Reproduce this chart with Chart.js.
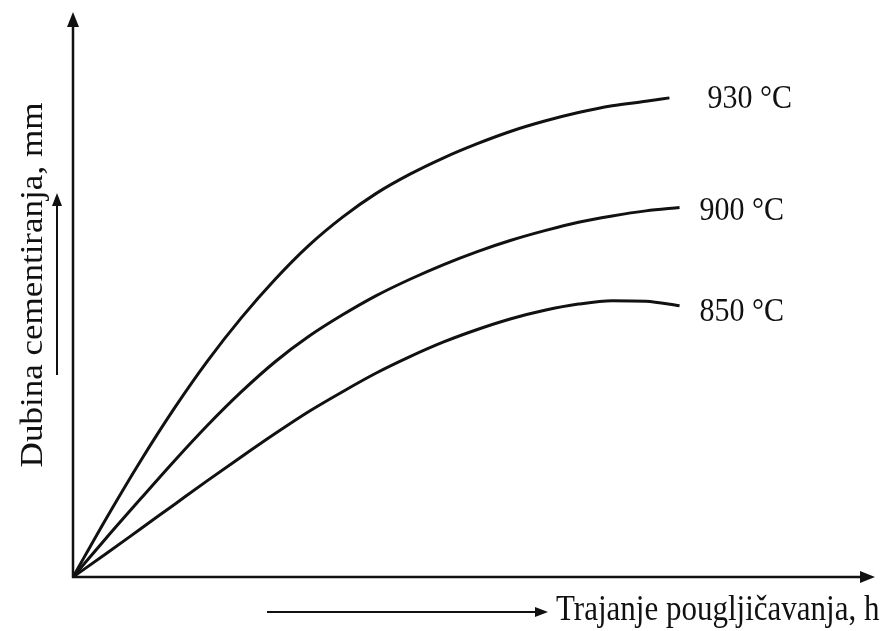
<!DOCTYPE html>
<html>
<head>
<meta charset="utf-8">
<script src="https://cdn.jsdelivr.net/npm/chart.js@4/dist/chart.umd.min.js"></script>
<style>
  html, body { margin: 0; padding: 0; background: #fff; }
  canvas { display: block; }
</style>
</head>
<body>
<canvas id="grafica" width="890" height="631"></canvas>
<script>
// Vrijeme (h) i dubina cementiranja (mm) za tri temperature
const hours = [0, 0.5, 1, 1.5, 2, 2.5, 3, 3.5, 4, 4.5, 5, 5.5, 6, 6.5, 7, 7.5, 8, 8.5, 9];
const hours930 = [0, 0.5, 1, 1.5, 2, 2.5, 3, 3.5, 4, 4.5, 5, 5.5, 6, 6.5, 7, 7.5, 8, 8.5, 8.85];
const depth930 = [0, 1.05, 2.05, 2.98, 3.83, 4.59, 5.27, 5.87, 6.37, 6.79, 7.13, 7.42, 7.67, 7.89, 8.07, 8.22, 8.34, 8.42, 8.48];
const depth900 = [0, 0.70, 1.38, 2.05, 2.69, 3.28, 3.81, 4.26, 4.64, 4.98, 5.27, 5.53, 5.76, 5.96, 6.13, 6.28, 6.39, 6.48, 6.54];
const depth850 = [0, 0.42, 0.85, 1.28, 1.71, 2.13, 2.54, 2.93, 3.28, 3.61, 3.90, 4.16, 4.38, 4.57, 4.72, 4.83, 4.89, 4.88, 4.80];
const seriesLabels = ['930 \u00B0C', '900 \u00B0C', '850 \u00B0C'];

const xTitle = 'Trajanje pougljičavanja, h';
const yTitle = 'Dubina cementiranja, mm';
const xMax = 11.9;
const yMax = 10;

const INK = '#111';
const FONT = '"Liberation Serif", "Times New Roman", serif';
const STRETCH = 1.13; // tekst je malo izdužen po visini

function toPoints(xs, ys) {
  return xs.map((x, i) => ({ x: x, y: ys[i] }));
}

function arrowHead(ctx, x, y, dir, len, half) {
  // dir: 'up' ili 'right'
  ctx.beginPath();
  if (dir === 'up') {
    ctx.moveTo(x, y);
    ctx.lineTo(x - half, y + len);
    ctx.lineTo(x + half, y + len);
  } else {
    ctx.moveTo(x, y);
    ctx.lineTo(x - len, y - half);
    ctx.lineTo(x - len, y + half);
  }
  ctx.closePath();
  ctx.fill();
}

function stretchedText(ctx, text, x, y, size, align, rotate) {
  ctx.save();
  ctx.translate(x, y);
  ctx.scale(1, STRETCH);
  if (rotate) ctx.rotate(-Math.PI / 2);
  ctx.font = size + 'px ' + FONT;
  ctx.textAlign = align;
  ctx.textBaseline = 'middle';
  ctx.fillText(text, 0, 0);
  ctx.restore();
}

// Osi sa strelicama i natpisi osi
const axesPlugin = {
  id: 'axesPlugin',
  beforeDatasetsDraw(chart) {
    const ctx = chart.ctx;
    const xs = chart.scales.x;
    const ys = chart.scales.y;
    const x0 = xs.getPixelForValue(0);
    const y0 = ys.getPixelForValue(0);
    const xEnd = xs.getPixelForValue(xMax);
    const yEnd = ys.getPixelForValue(yMax);

    ctx.save();
    ctx.strokeStyle = INK;
    ctx.fillStyle = INK;
    ctx.lineWidth = 2.5;

    // y os
    ctx.beginPath();
    ctx.moveTo(x0, y0 + 1);
    ctx.lineTo(x0, yEnd + 10);
    ctx.stroke();
    arrowHead(ctx, x0, yEnd, 'up', 15, 6);

    // x os
    ctx.beginPath();
    ctx.moveTo(x0 - 1, y0);
    ctx.lineTo(xEnd - 10, y0);
    ctx.stroke();
    arrowHead(ctx, xEnd, y0, 'right', 15, 6);

    // natpis x osi sa strelicom
    ctx.lineWidth = 2;
    ctx.beginPath();
    ctx.moveTo(267, 612);
    ctx.lineTo(538, 612);
    ctx.stroke();
    arrowHead(ctx, 548, 612, 'right', 13, 5);
    stretchedText(ctx, xTitle, 556, 611, 31, 'left', false);

    // natpis y osi sa strelicom
    ctx.beginPath();
    ctx.moveTo(57, 375);
    ctx.lineTo(57, 204);
    ctx.stroke();
    arrowHead(ctx, 57, 193, 'up', 13, 5);
    stretchedText(ctx, yTitle, 34, 285, 31, 'center', true);

    ctx.restore();
  },
  afterDatasetsDraw(chart) {
    const ctx = chart.ctx;
    ctx.save();
    ctx.fillStyle = INK;
    chart.data.datasets.forEach((ds, i) => {
      const meta = chart.getDatasetMeta(i);
      const last = meta.data[meta.data.length - 1];
      const off = ds.labelOffset;
      stretchedText(ctx, ds.label, last.x + off[0], last.y + off[1], 30, 'left', false);
    });
    ctx.restore();
  }
};

const lineStyle = {
  borderColor: INK,
  borderWidth: 3,
  pointRadius: 0,
  fill: false,
  cubicInterpolationMode: 'monotone'
};

new Chart(document.getElementById('grafica').getContext('2d'), {
  type: 'line',
  data: {
    datasets: [
      Object.assign({ label: seriesLabels[0], data: toPoints(hours930, depth930), labelOffset: [38, 1] }, lineStyle),
      Object.assign({ label: seriesLabels[1], data: toPoints(hours, depth900), labelOffset: [20, 4] }, lineStyle),
      Object.assign({ label: seriesLabels[2], data: toPoints(hours, depth850), labelOffset: [20, 6] }, lineStyle)
    ]
  },
  options: {
    responsive: false,
    animation: false,
    layout: { padding: { left: 73, right: 15, top: 12, bottom: 54 } },
    plugins: {
      legend: { display: false },
      tooltip: { enabled: false }
    },
    scales: {
      x: { type: 'linear', min: 0, max: xMax, display: false },
      y: { type: 'linear', min: 0, max: yMax, display: false }
    }
  },
  plugins: [axesPlugin]
});
</script>
</body>
</html>
